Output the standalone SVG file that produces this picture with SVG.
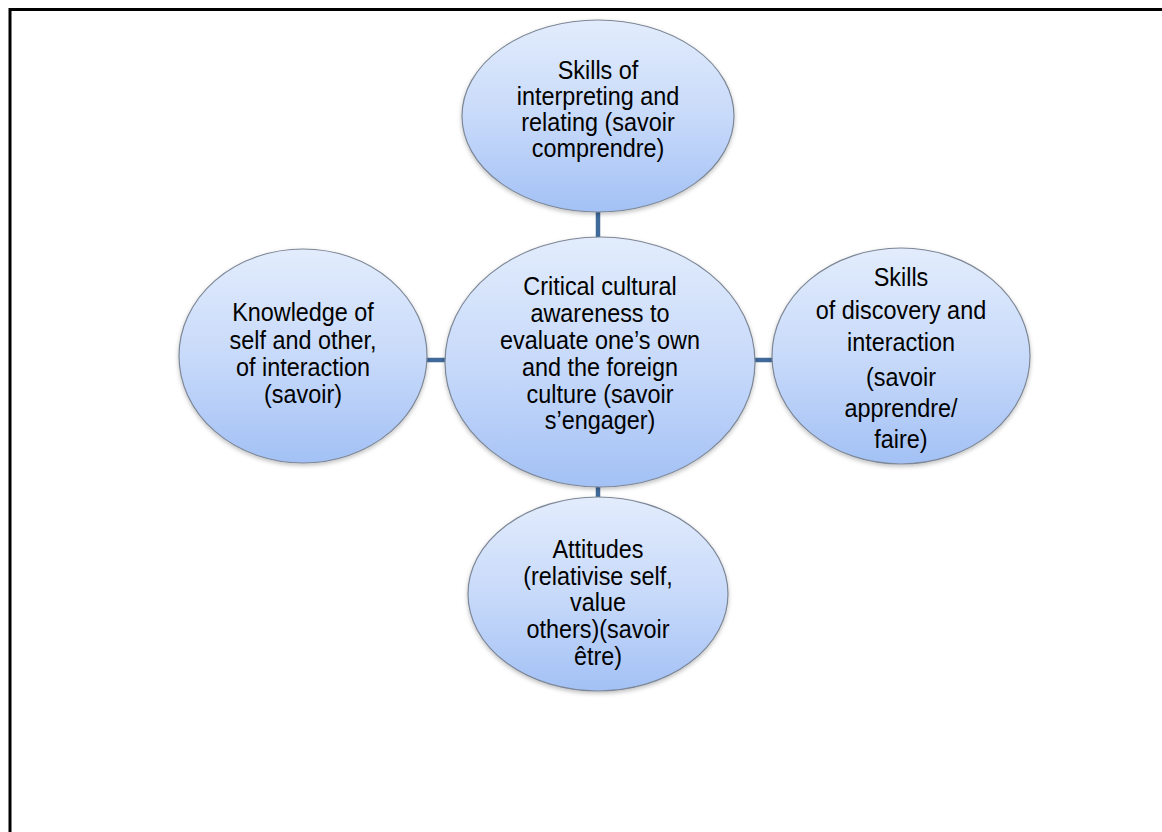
<svg xmlns="http://www.w3.org/2000/svg" width="1162" height="832" viewBox="0 0 1162 832">
<style>
.node ellipse{fill:url(#g);stroke:#7d8796;stroke-width:1.2;filter:url(#sh)}
.node text{font-family:"Liberation Sans",Arial,sans-serif;font-size:26px;fill:#000;text-anchor:middle}
.conn line{stroke:#3f6a9a;stroke-width:4.5}
.frame{stroke:#000;stroke-width:3;fill:none}
</style>
<defs>
<linearGradient id="g" x1="0" y1="0" x2="0" y2="1">
<stop offset="0" stop-color="#e2ecfc"/>
<stop offset="0.5" stop-color="#c8dafa"/>
<stop offset="1" stop-color="#a3c1f5"/>
</linearGradient>
<filter id="sh" x="-10%" y="-10%" width="120%" height="125%">
<feDropShadow dx="0" dy="2" stdDeviation="2" flood-color="#000" flood-opacity="0.25"/>
</filter>
</defs>
<rect width="1162" height="832" fill="#fff"/>
<path class="frame" d="M10,832 V9.5 H1162"/>
<g class="conn" id="connectors">
<line x1="598" y1="210" x2="598" y2="240"/>
<line x1="598" y1="485" x2="598" y2="500"/>
<line x1="425" y1="360" x2="448" y2="360"/>
<line x1="752" y1="360" x2="775" y2="360"/>
</g>
<g class="node" id="top">
<ellipse cx="598" cy="116" rx="136" ry="96"/>
<g transform="translate(598 0) scale(0.9 1)">
<text x="0" y="79">Skills of</text>
<text x="0" y="105">interpreting and</text>
<text x="0" y="131">relating (savoir</text>
<text x="0" y="157">comprendre)</text>
</g>
</g>
<g class="node" id="left">
<ellipse cx="303" cy="356" rx="124" ry="107"/>
<g transform="translate(303 0) scale(0.9 1)">
<text x="0" y="321">Knowledge of</text>
<text x="0" y="349">self and other,</text>
<text x="0" y="376">of interaction</text>
<text x="0" y="403">(savoir)</text>
</g>
</g>
<g class="node" id="center">
<ellipse cx="600" cy="362" rx="155" ry="125"/>
<g transform="translate(600 0) scale(0.9 1)">
<text x="0" y="295">Critical cultural</text>
<text x="0" y="322">awareness to</text>
<text x="0" y="349">evaluate one’s own</text>
<text x="0" y="376">and the foreign</text>
<text x="0" y="403">culture (savoir</text>
<text x="0" y="429">s’engager)</text>
</g>
</g>
<g class="node" id="right">
<ellipse cx="901" cy="356" rx="129" ry="108"/>
<g transform="translate(901 0) scale(0.9 1)">
<text x="0" y="286">Skills</text>
<text x="0" y="319">of discovery and</text>
<text x="0" y="351">interaction</text>
<text x="0" y="386">(savoir</text>
<text x="0" y="417">apprendre/</text>
<text x="0" y="448">faire)</text>
</g>
</g>
<g class="node" id="bottom">
<ellipse cx="598" cy="594" rx="130" ry="97"/>
<g transform="translate(598 0) scale(0.9 1)">
<text x="0" y="558">Attitudes</text>
<text x="0" y="585">(relativise self,</text>
<text x="0" y="611">value</text>
<text x="0" y="638">others)(savoir</text>
<text x="0" y="665">être)</text>
</g>
</g>
</svg>
